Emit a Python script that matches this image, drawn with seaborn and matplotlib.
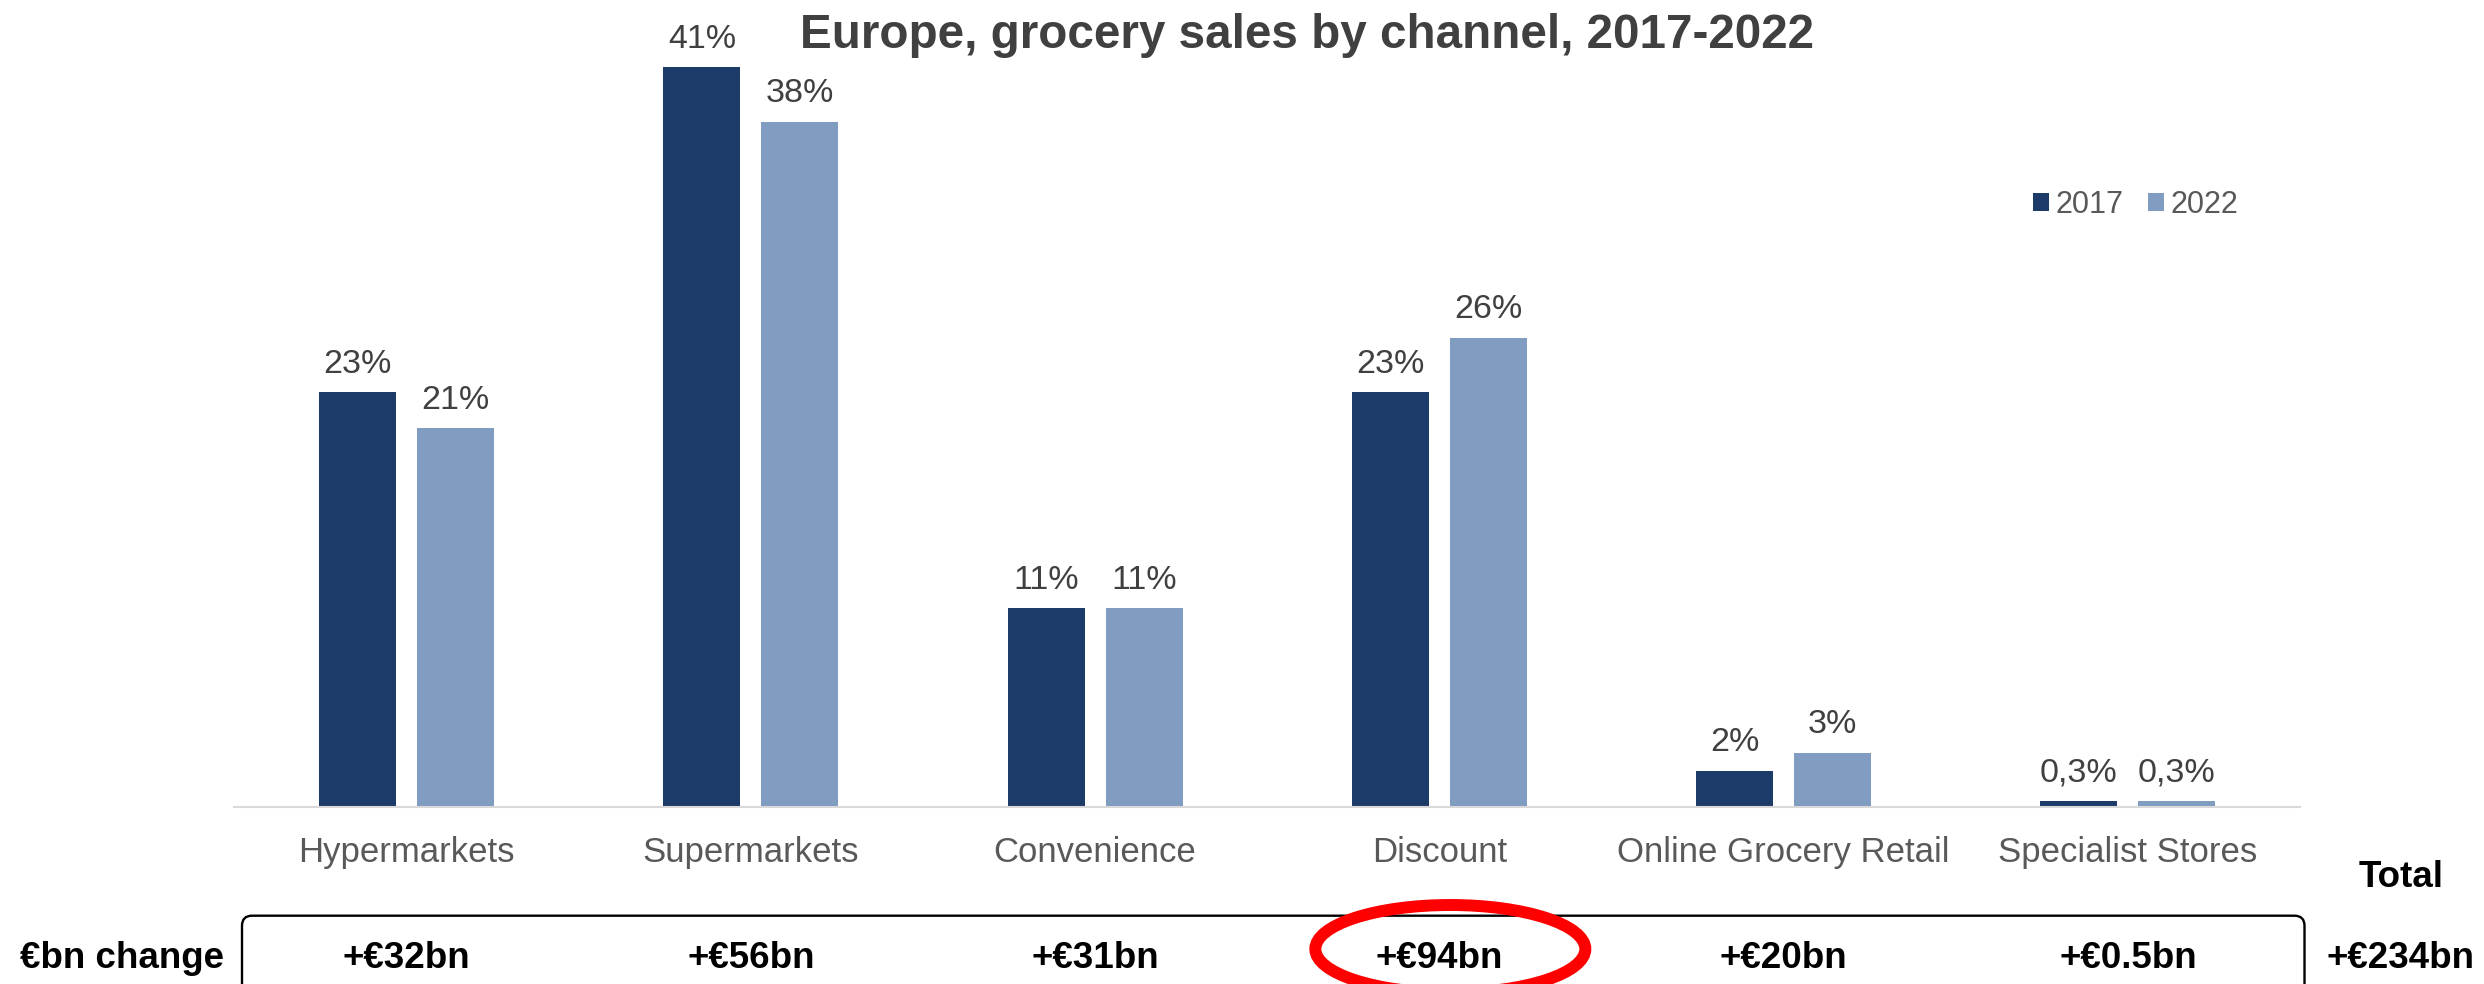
import matplotlib
matplotlib.use("Agg")
import matplotlib.pyplot as plt
import pandas as pd
import seaborn as sns
from matplotlib.patches import FancyBboxPatch, Ellipse, Patch
from matplotlib.transforms import IdentityTransform, blended_transform_factory

# ---- data -------------------------------------------------------------
channels = ["Hypermarkets", "Supermarkets", "Convenience", "Discount",
            "Online Grocery Retail", "Specialist Stores"]
years = ["2017", "2022"]
share_2017 = [23, 41, 11, 23, 2, 0.3]
share_2022 = [21, 38, 11, 26, 3, 0.3]
change_bn = [32, 56, 31, 94, 20, 0.5]
total_change_bn = 234
highlight_channel = "Discount"

# ---- style ------------------------------------------------------------
DARK = "#1c3b69"
LIGHT = "#809cc1"
TEXT_DARK = "#404040"
TEXT_GREY = "#595959"

W, H, DPI = 2484, 984, 100

sns.set_style("white")
plt.rcParams["font.family"] = ["Liberation Sans", "DejaVu Sans"]

df = pd.DataFrame({
    "channel": channels * 2,
    "year": [years[0]] * len(channels) + [years[1]] * len(channels),
    "share": share_2017 + share_2022,
})

fig = plt.figure(figsize=(W / DPI, H / DPI), dpi=DPI)

# axes placed in pixel terms: left/right edges and the baseline row
ax_l, ax_r, base_y = 234.4, 2300.0, 806.7
px_per_pct = 18.03
ax = fig.add_axes([ax_l / W, (H - base_y) / H, (ax_r - ax_l) / W, base_y / H])

sns.barplot(data=df, x="channel", y="share", hue="year",
            palette=[DARK, LIGHT], saturation=1, width=0.569, gap=0.214,
            linewidth=0, errorbar=None, legend=False, ax=ax)

ax.set_xlim(-0.5, len(channels) - 0.5)
ax.set_ylim(0, base_y / px_per_pct)
ax.set_xlabel("")
ax.set_ylabel("")
ax.set_yticks([])
for side in ["top", "left", "right"]:
    ax.spines[side].set_visible(False)
ax.spines["bottom"].set_color("#d9d9d9")
ax.spines["bottom"].set_linewidth(1.5)
ax.tick_params(axis="x", length=0, pad=21, labelsize=25, labelcolor=TEXT_GREY)


def pct(v):
    return (f"{v:.1f}".replace(".", ",") if v < 1 else f"{v:.0f}") + "%"


for cont, vals in zip(ax.containers, [share_2017, share_2022]):
    ax.bar_label(cont, labels=[pct(v) for v in vals], padding=9,
                 fontsize=24.5, color=TEXT_DARK)

# ---- title & legend ---------------------------------------------------
fig.text(1307.5 / W, (H - 48) / H, "Europe, grocery sales by channel, 2017-2022",
         ha="center", va="baseline", fontsize=34.3, fontweight="bold",
         color=TEXT_DARK)

handles = [Patch(facecolor=c, edgecolor="none", label=y)
           for c, y in zip([DARK, LIGHT], years)]
fig.legend(handles=handles, loc="center left",
           bbox_to_anchor=(2033 / W, 1 - 205 / H), ncol=2, frameon=False,
           fontsize=22, handlelength=0.52, handleheight=0.52,
           handletextpad=0.23, columnspacing=0.78, borderpad=0,
           borderaxespad=0, labelcolor=TEXT_GREY)

# ---- €bn change row ---------------------------------------------------
row_base = (H - 967.5) / H
bold_size = 26.5
bt = blended_transform_factory(ax.transData, fig.transFigure)
for i, v in enumerate(change_bn):
    ax.text(i, row_base, f"+€{v:g}bn", transform=bt, ha="center",
            va="baseline", fontsize=bold_size, fontweight="bold", color="black")

fig.text(224 / W, row_base, "€bn change", ha="right", va="baseline",
         fontsize=bold_size, fontweight="bold", color="black")
fig.text(2401 / W, (H - 886.7) / H, "Total", ha="center", va="baseline",
         fontsize=bold_size, fontweight="bold", color="black")
fig.text(2400 / W, row_base, f"+€{total_change_bn:g}bn", ha="center",
         va="baseline", fontsize=bold_size, fontweight="bold", color="black")

# rounded frame around the per-channel changes (runs off the bottom edge)
box = FancyBboxPatch((242, H - 1010), 2304.5 - 242, 1010 - 915.7,
                     boxstyle="round,pad=0,rounding_size=10",
                     transform=IdentityTransform(), fill=False,
                     edgecolor="black", linewidth=1.7, zorder=3)
fig.add_artist(box)

# red highlight around the biggest gain
cx = ax.transData.transform((channels.index(highlight_channel), 0))[0] + 11
ell = Ellipse((cx, H - 949), 270, 88, transform=IdentityTransform(),
              fill=False, edgecolor="#ff0000", linewidth=8.6, zorder=5)
fig.add_artist(ell)

fig.savefig("out.png", dpi=DPI)
